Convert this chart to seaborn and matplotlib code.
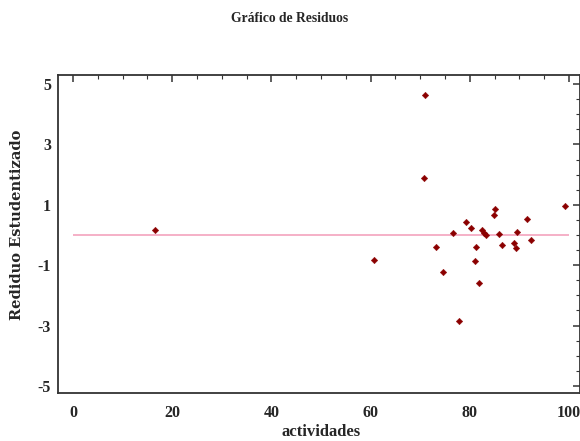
import pandas as pd
import matplotlib
matplotlib.use('Agg')
import matplotlib.pyplot as plt
from matplotlib.ticker import MultipleLocator
import seaborn as sns

# --- datos ---
actividades = [16.5, 60.7, 70.8, 71.0, 73.2, 74.5, 76.7, 77.9, 79.2, 80.2,
               81.1, 81.3, 81.9, 82.4, 82.9, 83.3, 84.8, 85.0, 85.8, 86.4,
               88.8, 89.4, 89.5, 91.6, 92.3, 99.2]
residuos = [0.15, -0.82, 1.89, 4.63, -0.41, -1.24, 0.08, -2.84, 0.42, 0.24,
            -0.86, -0.41, -1.60, 0.18, 0.08, 0.00, 0.65, 0.86, 0.04, -0.33,
            -0.28, -0.44, 0.10, 0.52, -0.18, 0.96]
linea_cero = 0.0
rango_linea = [0, 100]

df = pd.DataFrame({'actividades': actividades, 'residuo': residuos})

sns.set_style('white')
plt.rcParams['font.family'] = ['Liberation Serif', 'DejaVu Serif']
plt.rcParams['font.weight'] = 'bold'
plt.rcParams['axes.unicode_minus'] = False

fig = plt.figure(figsize=(5.8, 4.41), dpi=100)
ax = fig.add_axes([0.1, 0.109, 0.9, 0.721])

ax.hlines(linea_cero, rango_linea[0], rango_linea[1], color='#f4a3bd', linewidth=1.2, zorder=1)
sns.scatterplot(data=df, x='actividades', y='residuo', marker='D', s=11,
                color='#8b0000', edgecolor='#8b0000', linewidth=0.3, ax=ax, zorder=3)

ax.set_xlim(-3.0, 102.2)
ax.set_ylim(-5.23, 5.30)
ax.xaxis.set_major_locator(MultipleLocator(20))
ax.xaxis.set_minor_locator(MultipleLocator(5))
ax.set_yticks([-5, -3, -1, 1, 3, 5])
ax.yaxis.set_minor_locator(MultipleLocator(0.5))
ax.tick_params(which='both', direction='in', top=True, right=True, color='#333333')
ax.tick_params(which='major', length=5, width=1.1, labelsize=11.5)
ax.tick_params(axis='x', which='major', pad=9)
ax.tick_params(axis='y', which='major', pad=5)
ax.tick_params(which='minor', length=3, width=0.8)
for lab in ax.get_xticklabels() + ax.get_yticklabels():
    lab.set_fontweight('bold')

for s in ax.spines.values():
    s.set_color('#333333')
    s.set_linewidth(1.3)

ax.set_xlabel('actividades', fontsize=12, fontweight='bold', va='center')
ax.xaxis.set_label_coords(0.504, -0.123)
ax.set_ylabel('Rediduo Estudentizado', fontsize=10.5, fontweight='bold',
              family=['DejaVu Serif'], va='center')
ax.yaxis.set_label_coords(-0.079, 0.528)
fig.text(0.5, 0.958, 'Gráfico de Residuos', ha='center', va='center', fontsize=9.8, fontweight='bold')

fig.savefig('out.png', dpi=100)
